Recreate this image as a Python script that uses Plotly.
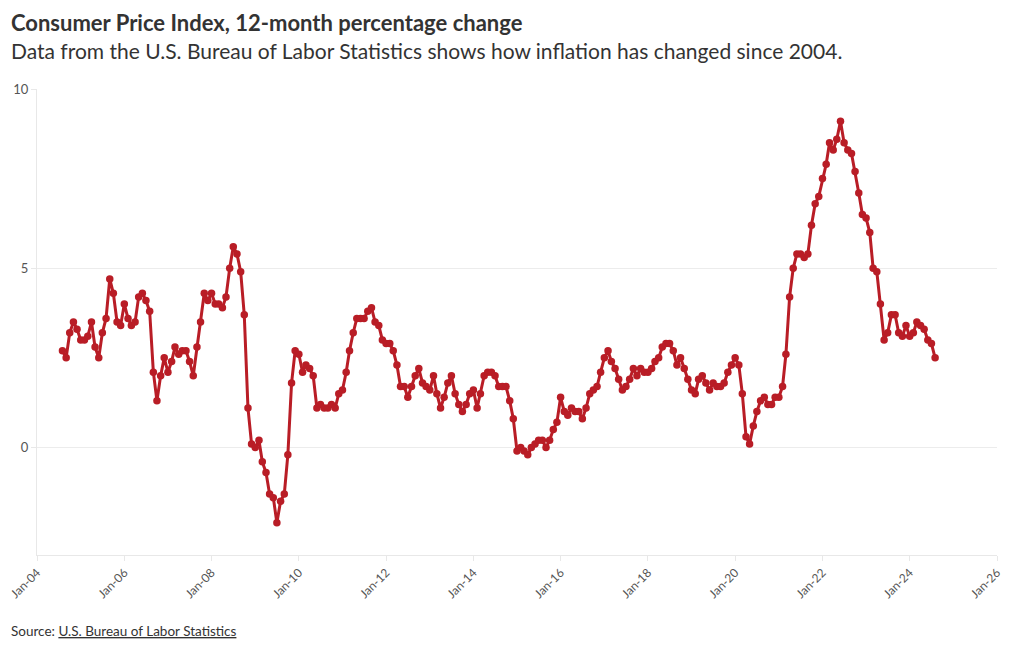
import plotly.graph_objects as go
import pandas as pd

start_month = "2004-08-01"
cpi_change = [
    2.7, 2.5, 3.2, 3.5, 3.3,
    3.0, 3.0, 3.1, 3.5, 2.8, 2.5, 3.2, 3.6, 4.7, 4.3, 3.5, 3.4,
    4.0, 3.6, 3.4, 3.5, 4.2, 4.3, 4.1, 3.8, 2.1, 1.3, 2.0, 2.5,
    2.1, 2.4, 2.8, 2.6, 2.7, 2.7, 2.4, 2.0, 2.8, 3.5, 4.3, 4.1,
    4.3, 4.0, 4.0, 3.9, 4.2, 5.0, 5.6, 5.4, 4.9, 3.7, 1.1, 0.1,
    0.0, 0.2, -0.4, -0.7, -1.3, -1.4, -2.1, -1.5, -1.3, -0.2, 1.8, 2.7,
    2.6, 2.1, 2.3, 2.2, 2.0, 1.1, 1.2, 1.1, 1.1, 1.2, 1.1, 1.5,
    1.6, 2.1, 2.7, 3.2, 3.6, 3.6, 3.6, 3.8, 3.9, 3.5, 3.4, 3.0,
    2.9, 2.9, 2.7, 2.3, 1.7, 1.7, 1.4, 1.7, 2.0, 2.2, 1.8, 1.7,
    1.6, 2.0, 1.5, 1.1, 1.4, 1.8, 2.0, 1.5, 1.2, 1.0, 1.2, 1.5,
    1.6, 1.1, 1.5, 2.0, 2.1, 2.1, 2.0, 1.7, 1.7, 1.7, 1.3, 0.8,
    -0.1, 0.0, -0.1, -0.2, 0.0, 0.1, 0.2, 0.2, 0.0, 0.2, 0.5, 0.7,
    1.4, 1.0, 0.9, 1.1, 1.0, 1.0, 0.8, 1.1, 1.5, 1.6, 1.7, 2.1,
    2.5, 2.7, 2.4, 2.2, 1.9, 1.6, 1.7, 1.9, 2.2, 2.0, 2.2, 2.1,
    2.1, 2.2, 2.4, 2.5, 2.8, 2.9, 2.9, 2.7, 2.3, 2.5, 2.2, 1.9,
    1.6, 1.5, 1.9, 2.0, 1.8, 1.6, 1.8, 1.7, 1.7, 1.8, 2.1, 2.3,
    2.5, 2.3, 1.5, 0.3, 0.1, 0.6, 1.0, 1.3, 1.4, 1.2, 1.2, 1.4,
    1.4, 1.7, 2.6, 4.2, 5.0, 5.4, 5.4, 5.3, 5.4, 6.2, 6.8, 7.0,
    7.5, 7.9, 8.5, 8.3, 8.6, 9.1, 8.5, 8.3, 8.2, 7.7, 7.1, 6.5,
    6.4, 6.0, 5.0, 4.9, 4.0, 3.0, 3.2, 3.7, 3.7, 3.2, 3.1, 3.4,
    3.1, 3.2, 3.5, 3.4, 3.3, 3.0, 2.9, 2.5,
]
months = pd.date_range(start_month, periods=len(cpi_change), freq="MS")

tick_dates = pd.date_range("2004-01-01", "2026-01-01", freq="24MS")
tick_labels = [d.strftime("%b-%y") for d in tick_dates]
y_ticks = [0, 5, 10]

FONT = "Lato, 'Source Sans Pro', sans-serif"
RED = "#b91d26"

# the page adds an 8px body margin; figure is sized to fit inside it
OFF = 8
W, H = 1004, 634
L, T = 37 - OFF, 89 - OFF
R = W - (997 - OFF)
B = H - (555 - OFF)
PW, PH = W - L - R, H - T - B


def px_x(px):
    return (px - OFF - L) / PW


def px_y(py):
    return (H - B - (py - OFF)) / PH


fig = go.Figure()
fig.add_trace(go.Scatter(
    x=months, y=cpi_change, mode="lines+markers",
    line=dict(color=RED, width=3),
    marker=dict(color=RED, size=7.5),
    hovertemplate="%{x|%b %Y}: %{y}%<extra></extra>",
))

fig.update_layout(
    width=W, height=H,
    margin=dict(l=L, r=R, t=T, b=B),
    paper_bgcolor="white", plot_bgcolor="white",
    font=dict(family=FONT, color="#333"),
    showlegend=False,
    xaxis=dict(
        range=["2004-01-01", "2026-01-01"],
        tickvals=tick_dates, ticktext=tick_labels,
        tickangle=-45, tickfont=dict(size=12, color="#555"),
        ticklabeloverflow="allow",
        showgrid=False, zeroline=False, automargin=False,
        showline=True, linecolor="#e8e8e8", linewidth=1,
        ticks="outside", ticklen=5, tickcolor="#e8e8e8",
    ),
    yaxis=dict(
        range=[-3, 10],
        tickvals=y_ticks,
        tickfont=dict(size=13, color="#555"),
        ticklabeloverflow="allow",
        showgrid=True, gridcolor="#ececec", gridwidth=1,
        zeroline=False, automargin=False,
        showline=True, linecolor="#e8e8e8", linewidth=1,
        ticks="outside", ticklen=5, tickcolor="#e8e8e8",
    ),
)
fig.add_annotation(
    text="<b>Consumer Price Index, 12-month percentage change</b>",
    xref="paper", yref="paper", x=px_x(9), y=px_y(22),
    xanchor="left", yanchor="middle", showarrow=False,
    font=dict(size=22, color="#333", family=FONT),
)
fig.add_annotation(
    text="Data from the U.S. Bureau of Labor Statistics shows how inflation has changed since 2004.",
    xref="paper", yref="paper", x=px_x(9), y=px_y(51),
    xanchor="left", yanchor="middle", showarrow=False,
    font=dict(size=21, color="#333", family=FONT),
)
fig.add_annotation(
    text="Source: <span style='text-decoration:underline'>U.S. Bureau of Labor Statistics</span>",
    xref="paper", yref="paper", x=px_x(9), y=px_y(631),
    xanchor="left", yanchor="middle", showarrow=False,
    font=dict(size=13.5, color="#333", family=FONT),
)

fig.write_html("out.html")
